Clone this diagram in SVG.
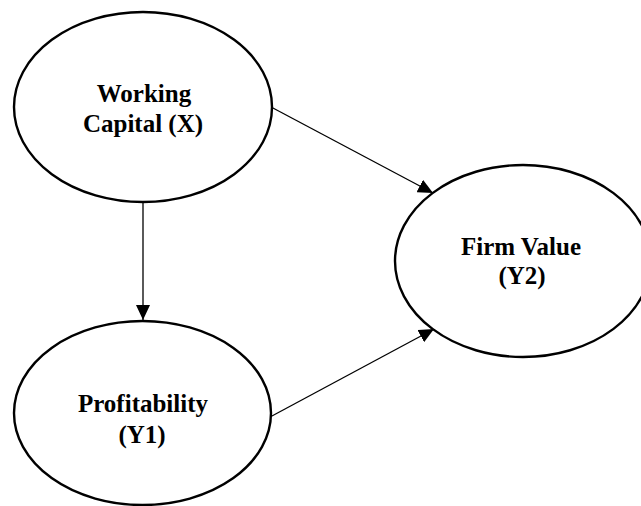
<svg xmlns="http://www.w3.org/2000/svg" width="641" height="506" viewBox="0 0 641 506">
  <style>
    .node ellipse { fill: #ffffff; stroke: #000000; stroke-width: 2.4; }
    .node text { font-family: "Liberation Serif", "Times New Roman", serif; font-weight: bold; font-size: 25px; fill: #000000; text-anchor: middle; }
    .edge { stroke: #000000; stroke-width: 1.3; fill: none; marker-end: url(#arrow); }
  </style>
  <defs>
    <marker id="arrow" markerUnits="userSpaceOnUse" markerWidth="16" markerHeight="14" viewBox="0 0 16 14" refX="15" refY="7" orient="auto">
      <path d="M0,0 L15,7 L0,14 Z" fill="#000000"/>
    </marker>
  </defs>
  <rect x="0" y="0" width="641" height="506" fill="#ffffff"/>
  <g id="connectors">
    <line class="edge" x1="272" y1="107.5" x2="433" y2="193"/>
    <line class="edge" x1="143" y1="202" x2="143" y2="320"/>
    <line class="edge" x1="271" y1="416.5" x2="434" y2="329"/>
  </g>
  <g id="node-working-capital" class="node">
    <ellipse cx="143" cy="107" rx="129" ry="95"/>
    <text x="144" y="102">Working</text>
    <text x="143" y="132">Capital (X)</text>
  </g>
  <g id="node-profitability" class="node">
    <ellipse cx="142.5" cy="413" rx="128.5" ry="92"/>
    <text x="143" y="412">Profitability</text>
    <text x="142" y="443">(Y1)</text>
  </g>
  <g id="node-firm-value" class="node">
    <ellipse cx="523" cy="261" rx="128" ry="96"/>
    <text x="521" y="255">Firm Value</text>
    <text x="522" y="284">(Y2)</text>
  </g>
</svg>
